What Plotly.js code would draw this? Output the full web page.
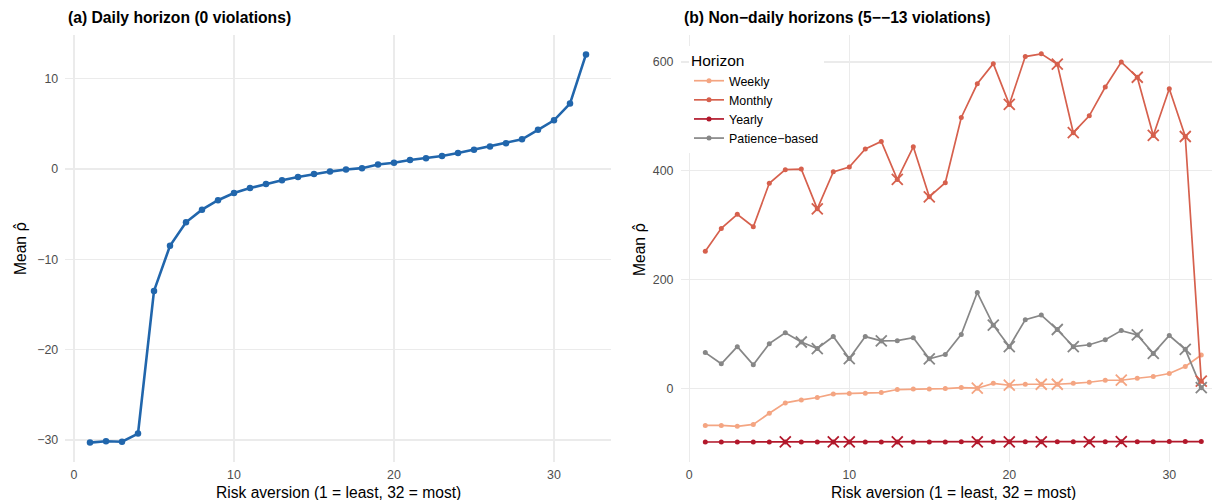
<!DOCTYPE html>
<html>
<head>
<meta charset="utf-8">
<script src="https://cdn.plot.ly/plotly-3.0.1.min.js"></script>
<style>
  html, body { margin: 0; padding: 0; background: #fff; }
  #chart { width: 1212px; height: 500px; }
</style>
</head>
<body>
<div id="chart"></div>
<script>
// Risk-aversion levels (1 = least, 32 = most)
const riskLevels = [1, 2, 3, 4, 5, 6, 7, 8, 9, 10, 11, 12, 13, 14, 15, 16,
                    17, 18, 19, 20, 21, 22, 23, 24, 25, 26, 27, 28, 29, 30, 31, 32];

// Panel (a): mean rho-hat, daily horizon
const dailyRho = [-30.3, -30.15, -30.2, -29.3, -13.5, -8.5, -5.9, -4.5, -3.45, -2.65,
                  -2.1, -1.65, -1.25, -0.87, -0.55, -0.28, -0.05, 0.1, 0.5, 0.7,
                  1.0, 1.2, 1.45, 1.78, 2.15, 2.5, 2.85, 3.3, 4.35, 5.4, 7.25, 12.7];

// Panel (b): mean rho-hat, non-daily horizons
const horizonNames = ["Weekly", "Monthly", "Yearly", "Patience\u2212based"];
const weeklyRho = [-68.5, -68.5, -70, -66.6, -46, -27, -21.5, -17, -10.4, -9.8,
                   -9.2, -8, -2.4, -1.2, -1.2, -0.6, 1.2, 0, 9, 5.5,
                   7.3, 7.3, 7.3, 9, 11, 14.7, 14.7, 18.3, 21.5, 27, 40, 61];
const monthlyRho = [252, 294, 320, 297, 377, 402, 403, 330, 398, 407,
                    440, 454, 384, 444, 352, 378, 498, 560, 597, 522,
                    610, 615, 596, 470, 501, 554, 600, 572, 465, 551, 463, 13];
const yearlyRho = [-98.9, -98.9, -98.9, -98.9, -98.9, -98.8, -98.8, -98.8, -98.8, -98.8,
                   -98.8, -98.8, -98.7, -98.7, -98.7, -98.7, -98.6, -98.6, -98.6, -98.6,
                   -98.6, -98.5, -98.5, -98.5, -98.5, -98.4, -98.4, -98.3, -98.3, -98.2, -98.2, -98.1];
const patienceRho = [65.5, 45, 76.5, 43, 82, 102, 85, 73, 95, 54.5,
                     95, 87, 87.5, 93, 54, 62, 99, 176, 116, 76.5,
                     126, 134.5, 108, 76.5, 80, 89, 106, 98, 64, 97, 71.5, 1];

// Risk levels at which each horizon violates monotonicity (drawn as crosses)
const weeklyViolations = [18, 20, 22, 23, 27];
const monthlyViolations = [8, 13, 15, 20, 23, 24, 28, 29, 31, 32];
const yearlyViolations = [6, 9, 10, 13, 18, 20, 22, 25, 27];
const patienceViolations = [7, 8, 10, 12, 15, 19, 20, 23, 24, 28, 29, 31, 32];

const dailyColor = "#2166AC";
const horizonColors = ["#F4A582", "#D6604D", "#B2182B", "#878787"];
const FONT = "Liberation Sans, Arial, Helvetica, sans-serif";

const horizonSeries = [weeklyRho, monthlyRho, yearlyRho, patienceRho];
const horizonViolations = [weeklyViolations, monthlyViolations, yearlyViolations, patienceViolations];

const traces = [];

traces.push({
  x: riskLevels, y: dailyRho, xaxis: "x", yaxis: "y",
  type: "scatter", mode: "lines+markers", showlegend: false,
  line: { color: dailyColor, width: 2.6 },
  marker: { color: dailyColor, size: 6.5 },
  hoverinfo: "x+y"
});

horizonSeries.forEach((series, i) => {
  traces.push({
    x: riskLevels, y: series, xaxis: "x2", yaxis: "y2",
    type: "scatter", mode: "lines+markers", name: horizonNames[i],
    line: { color: horizonColors[i], width: 1.7 },
    marker: { color: horizonColors[i], size: 5 },
    legendgroup: horizonNames[i]
  });
});

horizonSeries.forEach((series, i) => {
  const vx = horizonViolations[i];
  const vy = vx.map(level => series[riskLevels.indexOf(level)]);
  traces.push({
    x: vx, y: vy, xaxis: "x2", yaxis: "y2",
    type: "scatter", mode: "markers", showlegend: false,
    legendgroup: horizonNames[i],
    marker: { symbol: "x-thin", size: 11, line: { color: horizonColors[i], width: 1.8 } }
  });
});

const gridStyle = {
  showgrid: true, gridcolor: "#EBEBEB", gridwidth: 1.4,
  zeroline: false, showline: false, ticks: "",
  tickfont: { family: FONT, size: 12.4, color: "#4D4D4D" }
};

// plot area spans 35px..462px vertically
const py = px => (462 - px) / 427;

const rhoHat = '<span style="font-family:DejaVu Sans">\u03C1\u0302</span>';

const layout = {
  width: 1212, height: 500,
  margin: { l: 0, r: 0, t: 35, b: 38 },
  paper_bgcolor: "#fff", plot_bgcolor: "#fff",
  font: { family: FONT, color: "#000" },
  xaxis: Object.assign({}, gridStyle, {
    domain: [65.2 / 1212, 610.8 / 1212], range: [-0.55, 33.55],
    tickvals: [0, 10, 20, 30], ticklabelstandoff: 4, anchor: "y"
  }),
  yaxis: Object.assign({}, gridStyle, {
    range: [-32.45, 14.85], tickvals: [-30, -20, -10, 0, 10],
    ticklabelstandoff: 6, anchor: "x"
  }),
  xaxis2: Object.assign({}, gridStyle, {
    domain: [680.5 / 1212, 1], range: [-0.55, 32.67],
    tickvals: [0, 10, 20, 30], ticklabelstandoff: 4, anchor: "y2"
  }),
  yaxis2: Object.assign({}, gridStyle, {
    range: [-135.7, 649.7], tickvals: [0, 200, 400, 600],
    ticklabelstandoff: 6, anchor: "x2"
  }),
  showlegend: true,
  legend: {
    x: 689 / 1212, y: py(46), xanchor: "left", yanchor: "top",
    bgcolor: "#fff", borderwidth: 0,
    title: { text: "Horizon", font: { family: FONT, size: 15.5, color: "#000" } },
    font: { family: FONT, size: 12.4, color: "#000" },
    itemwidth: 30, tracegroupgap: 0
  },
  annotations: [
    { text: "<b>(a) Daily horizon (0 violations)</b>", xref: "paper", yref: "paper",
      x: 66 / 1212, y: py(18), xanchor: "left", yanchor: "middle", showarrow: false,
      font: { family: FONT, size: 15.7, color: "#000" } },
    { text: "<b>(b) Non\u2212daily horizons (5\u2212\u221213 violations)</b>", xref: "paper", yref: "paper",
      x: 682 / 1212, y: py(18), xanchor: "left", yanchor: "middle", showarrow: false,
      font: { family: FONT, size: 15.7, color: "#000" } },
    { text: "Risk aversion (1 = least, 32 = most)", xref: "paper", yref: "paper",
      x: 338 / 1212, y: py(492), xanchor: "center", yanchor: "middle", showarrow: false,
      font: { family: FONT, size: 15.6, color: "#000" } },
    { text: "Risk aversion (1 = least, 32 = most)", xref: "paper", yref: "paper",
      x: 953 / 1212, y: py(492), xanchor: "center", yanchor: "middle", showarrow: false,
      font: { family: FONT, size: 15.6, color: "#000" } },
    { text: "Mean " + rhoHat, xref: "paper", yref: "paper", textangle: -90,
      x: 21 / 1212, y: py(249), xanchor: "center", yanchor: "middle", showarrow: false,
      font: { family: FONT, size: 15.6, color: "#000" } },
    { text: "Mean " + rhoHat, xref: "paper", yref: "paper", textangle: -90,
      x: 640 / 1212, y: py(249), xanchor: "center", yanchor: "middle", showarrow: false,
      font: { family: FONT, size: 15.6, color: "#000" } }
  ]
};

Plotly.newPlot("chart", traces, layout, { staticPlot: true, displayModeBar: false });
</script>
</body>
</html>
